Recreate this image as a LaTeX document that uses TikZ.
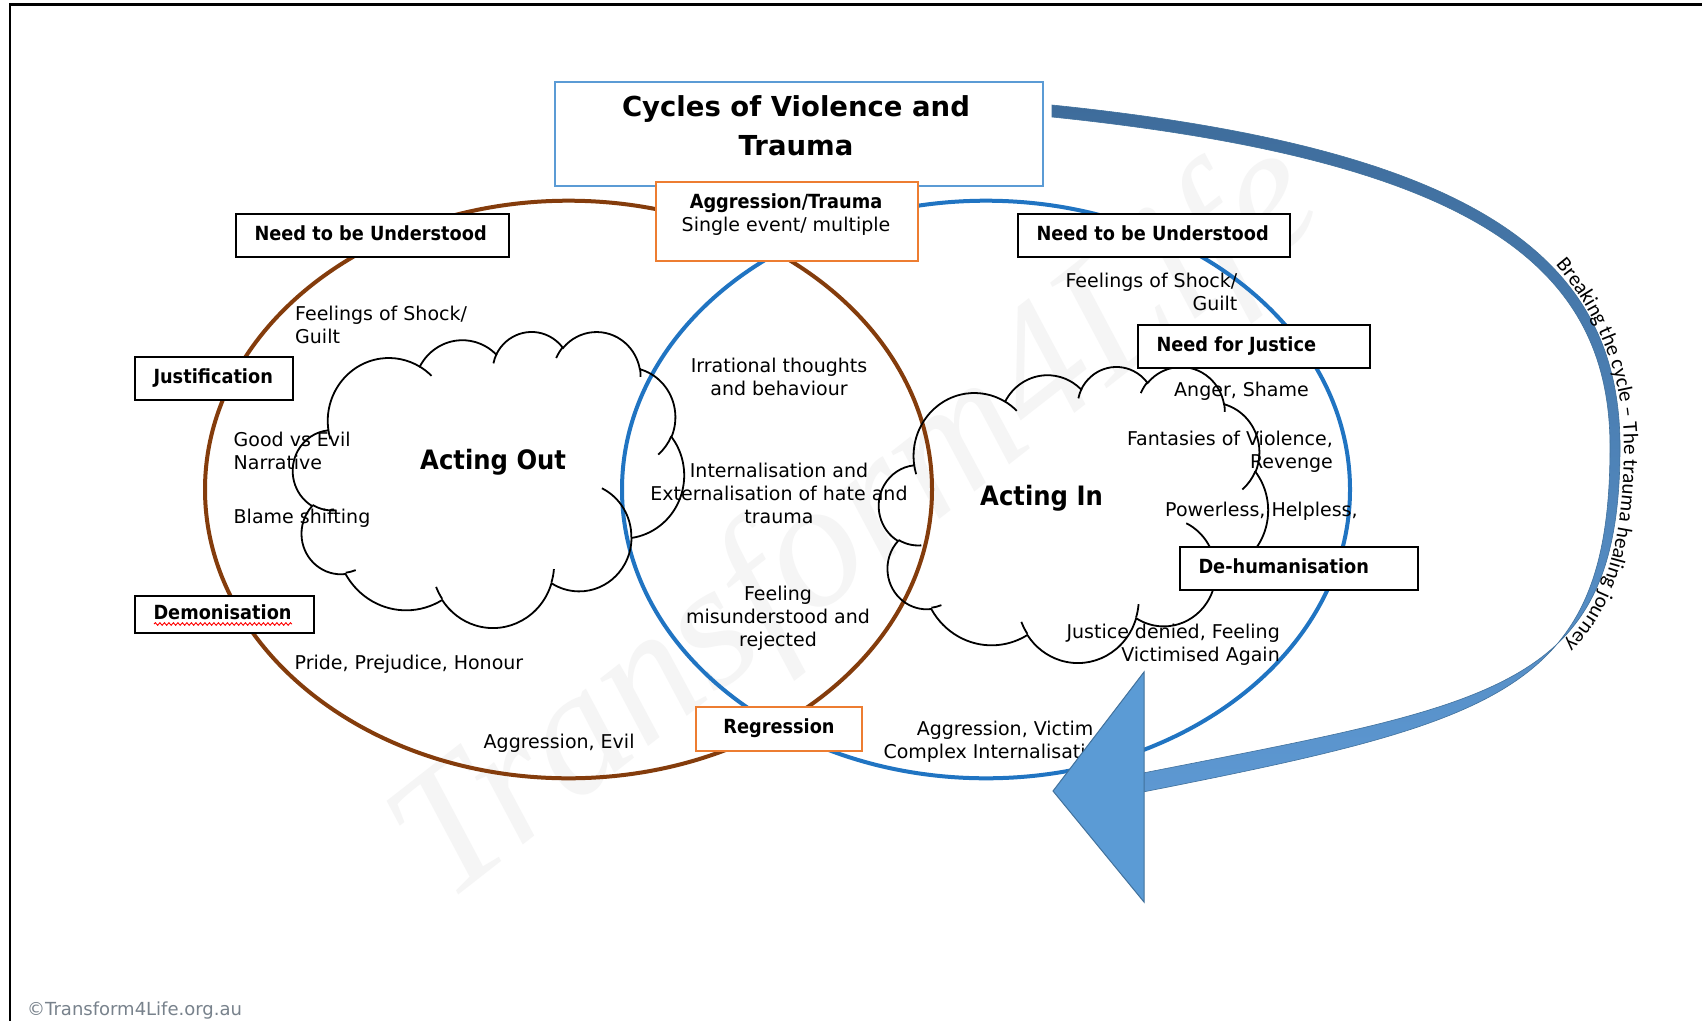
\documentclass[tikz,border=0pt]{standalone}
\usepackage{fontspec}
\setmainfont{DejaVu Sans}
\newfontfamily\nfont{DejaVu Sans}[FakeStretch=0.91]
\newfontfamily\wmfont{Liberation Serif}
\newfontfamily\cfont{Carlito}
\usetikzlibrary{decorations.text,decorations.pathmorphing}

\definecolor{brownc}{RGB}{132,60,12}
\definecolor{bluec}{RGB}{32,116,194}
\definecolor{titleblue}{RGB}{91,155,213}
\definecolor{orangec}{RGB}{237,125,49}
\definecolor{banddark}{RGB}{62,108,155}
\definecolor{bandlight}{RGB}{93,152,210}
\definecolor{headfill}{RGB}{91,155,213}
\definecolor{headedge}{RGB}{65,113,156}
\definecolor{copyc}{RGB}{120,130,140}

\newcommand\rgf{\fontsize{19}{23}\selectfont}
\newcommand\lblf{\nfont\bfseries\fontsize{19.5}{23}\selectfont}
\newcommand\bigf{\nfont\bfseries\fontsize{26.7}{30}\selectfont}
\newcommand\titlef{\bfseries\fontsize{27.5}{39}\selectfont}
\newcommand\atf{\cfont\fontsize{21}{21}\selectfont}
\newcommand\tp{\rule{0pt}{16pt}}

% Office-style cloud outline, built from elliptical arcs (visual angles -> parametric)
\newcommand\cloudarc[5]{%
  \pgfmathsetmacro\cldA{#4}%
  \pgfmathsetmacro\cldB{#4+#5}%
  \pgfmathsetmacro\cldS{atan2(#2*sin(\cldA),#3*cos(\cldA))}%
  \pgfmathsetmacro\cldS{\cldS+360*round((\cldA-\cldS)/360)}%
  \pgfmathsetmacro\cldE{atan2(#2*sin(\cldB),#3*cos(\cldB))}%
  \pgfmathsetmacro\cldE{\cldE+360*round((\cldB-\cldE)/360)}%
  \xdef#1{#1 arc[start angle=\cldS, end angle=\cldE, x radius=#2, y radius=#3]}%
}
\gdef\cloudmain{(390,1437)}
\cloudarc\cloudmain{675.3}{919.0}{-190.4875}{123.7805}
\cloudarc\cloudmain{533.3}{726.7}{-144.1024}{89.9452}
\cloudarc\cloudmain{436.5}{594.5}{-145.8079}{99.7230}
\cloudarc\cloudmain{485.7}{659.5}{-130.9861}{117.2417}
\cloudarc\cloudmain{533.3}{727.3}{-78.7089}{109.0269}
\cloudarc\cloudmain{677.5}{922.0}{-46.2673}{130.2690}
\cloudarc\cloudmain{578.5}{786.7}{0.6250}{114.0333}
\cloudarc\cloudmain{675.2}{921.5}{22.4516}{115.1726}
\cloudarc\cloudmain{772.0}{1054.3}{66.2426}{75.7110}
\cloudarc\cloudmain{436.0}{591.8}{-274.9421}{146.7356}
\cloudarc\cloudmain{434.5}{594.5}{-246.8285}{152.5189}
\gdef\cloudhooks{}
\xdef\cloudhooks{\cloudhooks (469.3,2617.7)}\cloudarc\cloudhooks{434.5}{594.5}{86.7420}{26.4295}
\xdef\cloudhooks{\cloudhooks (692.8,3489.9)}\cloudarc\cloudhooks{436.0}{591.8}{73.6105}{11.4475}
\xdef\cloudhooks{\cloudhooks (1647.8,3909.0)}\cloudarc\cloudhooks{675.2}{921.5}{137.6242}{14.0811}
\xdef\cloudhooks{\cloudhooks (2882.7,3475.1)}\cloudarc\cloudhooks{675.2}{921.5}{6.4533}{15.9984}
\xdef\cloudhooks{\cloudhooks (3412.9,2295.4)}\cloudarc\cloudhooks{578.5}{786.7}{-70.2924}{70.9174}
\xdef\cloudhooks{\cloudhooks (4179.8,1535.4)}\cloudarc\cloudhooks{533.3}{727.3}{30.3180}{27.7515}
\xdef\cloudhooks{\cloudhooks (3832.4,542.6)}\cloudarc\cloudhooks{485.7}{659.5}{-13.7443}{14.8589}
\xdef\cloudhooks{\cloudhooks (2907.8,395.2)}\cloudarc\cloudhooks{485.7}{659.5}{-149.1815}{18.1954}
\xdef\cloudhooks{\cloudhooks (2214.1,472.0)}\cloudarc\cloudhooks{436.5}{594.5}{-163.4943}{17.6864}
\xdef\cloudhooks{\cloudhooks (1400.0,519.2)}\cloudarc\cloudhooks{675.3}{919.0}{-66.7070}{12.3194}
\xdef\cloudhooks{\cloudhooks (412.7,1578.9)}\cloudarc\cloudhooks{675.3}{919.0}{157.6544}{11.8582}

\begin{document}
\begin{tikzpicture}[x=1pt,y=-1pt,
  bbox/.style={draw=black, line width=2.5pt, fill=white, inner xsep=18.5pt, inner ysep=0pt,
               text height=14pt, text depth=4pt, font=\lblf},
  obox/.style={draw=orangec, line width=2pt, fill=white},
  tbox/.style={draw=titleblue, line width=2pt, fill=white},
  txt/.style={inner sep=0pt, font=\rgf},
  cloudline/.style={draw=black, line width=1.8pt},
  ell/.style={line width=4pt}]
\useasboundingbox (0,0) rectangle (1702,1020);
\fill[white] (0,0) rectangle (1702,1020);

% watermark
\node[rotate=38, text=black!4, font=\wmfont\itshape\fontsize{180}{180}\selectfont,
      anchor=base west, inner sep=0pt] (wm) at (446,905) {Transform4Life};

% frame
\draw[line width=2.5pt] (10,1022) -- (10,4.5) -- (1704,4.5);

% the two cycles
\draw[ell, brownc] (568.5,489.5) ellipse [x radius=363.5, y radius=288.8];
\draw[ell, bluec] (986,489.5) ellipse [x radius=364, y radius=288.8];

% clouds
\begin{scope}[shift={(293,331)}, x=0.09051pt, y=-0.068519pt]
  \draw[cloudline] \cloudmain -- cycle;
  \draw[cloudline] \cloudhooks;
\end{scope}
\begin{scope}[shift={(879,366)}, x=0.090046pt, y=-0.068519pt]
  \draw[cloudline] \cloudmain -- cycle;
  \draw[cloudline] \cloudhooks;
\end{scope}

% title and event boxes
\node[tbox, minimum width=488pt, minimum height=104pt] (title) at (799,134) {};
\node[txt, font=\titlef, align=center, anchor=north] (titleText) at (796,92)
  {\rule{0pt}{24pt}Cycles of Violence and\\Trauma};
\node[obox, minimum width=262pt, minimum height=79pt] (bAgg) at (787,221.5) {};
\node[txt, align=center, anchor=north] (tAgg) at (786,192.3)
  {\tp{\lblf Aggression/Trauma}\\Single event/ multiple};
\node[obox, font=\lblf, text height=14pt, text depth=4pt, minimum width=166pt, minimum height=44pt]
  (bReg) at (779,728.5) {Regression};

% black label boxes
\node[bbox, minimum width=273pt, minimum height=43pt] (bNeedL) at (372.5,235.5) {\makebox[236pt][l]{Need to be Understood}};
\node[bbox, minimum width=158pt, minimum height=43pt] (bJust) at (214,378.5) {\makebox[121pt][l]{Justification}};
\node[bbox, minimum width=179pt, minimum height=37pt] (bDemon) at (224.5,614.5) {\makebox[142pt][l]{Demonisation}};
\draw[red, line width=0.9pt, decorate, decoration={snake, amplitude=1.3pt, segment length=4.5pt}] (154,624) -- (292,624);
\node[bbox, minimum width=272pt, minimum height=43pt] (bNeedR) at (1154,235.5) {\makebox[235pt][l]{Need to be Understood}};
\node[bbox, minimum width=232pt, minimum height=43pt] (bNeedJ) at (1254,346.5) {\makebox[195pt][l]{Need for Justice}};
\node[bbox, minimum width=238pt, minimum height=43pt] (bDehum) at (1299,568.5) {\makebox[201pt][l]{De-humanisation}};

% texts, left cycle
\node[txt, anchor=north west, align=left] (tLfeel) at (295,304) {\tp Feelings of Shock/\\Guilt};
\node[txt, anchor=north west, align=left] (tGood) at (233.5,430) {\tp Good vs Evil\\Narrative};
\node[txt, anchor=base west] (tBlame) at (233.5,523) {Blame shifting};
\node[txt, anchor=base west] (tPride) at (294.5,669.5) {Pride, Prejudice, Honour};
\node[txt, anchor=base west] (tAggEvil) at (483.5,748.5) {Aggression, Evil};
\node[txt, anchor=base west, font=\bigf] (tActOut) at (420,469) {Acting Out};

% texts, overlap
\node[txt, anchor=north, align=center] (tIrr) at (779,356.7) {\tp Irrational thoughts\\and behaviour};
\node[txt, anchor=north, align=center] (tInt) at (779,461) {\tp Internalisation and\\Externalisation of hate and\\trauma};
\node[txt, anchor=north, align=center] (tMis) at (778,584) {\tp Feeling\\misunderstood and\\rejected};

% texts, right cycle
\node[txt, anchor=north east, align=right] (tRfeel) at (1237.5,271.7) {\tp Feelings of Shock/\\Guilt};
\node[txt, anchor=base west] (tAnger) at (1174,396) {Anger, Shame};
\node[txt, anchor=north east, align=right] (tFant) at (1333,429) {\tp Fantasies of Violence,\\Revenge};
\node[txt, anchor=base west] (tPower) at (1165,516.7) {Powerless, Helpless,};
\node[txt, anchor=north east, align=right] (tJust) at (1280,622.3) {\tp Justice denied, Feeling\\Victimised Again};
\node[txt, anchor=north west, align=left] (tAggVic) at (883.3,719) {\tp\hspace*{33.3pt}Aggression, Victim\\Complex Internalisation};
\node[txt, anchor=base west, font=\bigf] (tActIn) at (980,505) {Acting In};

% breaking-the-cycle arrow
\path[draw=headedge, line width=0.6pt, top color=banddark, bottom color=bandlight]
  (1052,105) .. controls (1482,149) and (1620,260) .. (1620,447)
  .. controls (1620,690) and (1498,703) .. (1143,773)
  -- (1143,792)
  .. controls (1502,721) and (1610,690) .. (1610,447)
  .. controls (1610,266) and (1476,161) .. (1052,117) -- cycle;
\path[fill=headfill, draw=headedge, line width=1pt] (1144,672) -- (1053,791) -- (1144,902) -- cycle;
\path[decorate, decoration={text along path, text align=center,
      text={|\atf|Breaking the cycle – The trauma healing journey}}]
  (1548,256) .. controls (1598,310) and (1624,378) .. (1624,447)
  .. controls (1624,545) and (1603,612) .. (1556,652);

% copyright
\node[anchor=base west, inner sep=0pt, font=\fontsize{18}{20}\selectfont, text=copyc] (copy) at (27,1015) {©Transform4Life.org.au};
\end{tikzpicture}
\end{document}
